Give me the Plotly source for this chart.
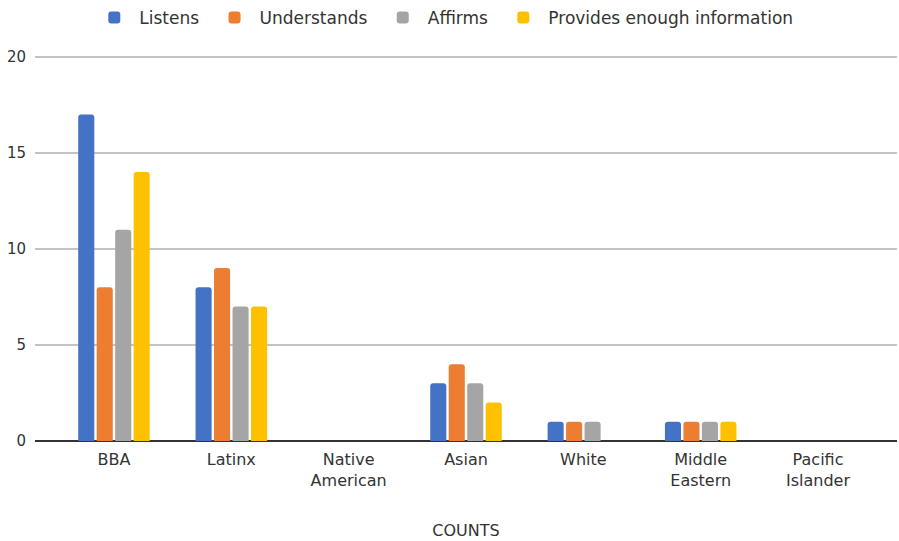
import plotly.graph_objects as go

categories = ["BBA", "Latinx", "Native<br>American", "Asian", "White", "Middle<br>Eastern", "Pacific<br>Islander"]
listens = [17, 8, 0, 3, 1, 1, 0]
understands = [8, 9, 0, 4, 1, 1, 0]
affirms = [11, 7, 0, 3, 1, 1, 0]
enough_info = [14, 7, 0, 2, 0, 1, 0]

series = [
    ("Listens", listens, "#4472C4"),
    ("Understands", understands, "#ED7D31"),
    ("Affirms", affirms, "#A5A5A5"),
    ("Provides enough information", enough_info, "#FFC000"),
]

y_ticks = [0, 5, 10, 15, 20]

font_family = "DejaVu Sans, Verdana, sans-serif"
text_color = "#333333"

fig = go.Figure()
for name, values, color in series:
    fig.add_trace(go.Bar(
        name=name + "\u00a0",
        x=categories,
        y=values,
        marker=dict(color=color, line=dict(width=0)),
    ))

fig.update_layout(
    width=899,
    height=541,
    barmode="group",
    bargap=0.37,
    bargroupgap=0.13,
    barcornerradius=3,
    plot_bgcolor="white",
    paper_bgcolor="white",
    margin=dict(l=35, r=2, t=52, b=100),
    font=dict(family=font_family, size=16, color=text_color),
    legend=dict(
        orientation="h",
        xref="container",
        yref="container",
        x=0.497,
        xanchor="center",
        y=1.0,
        yanchor="top",
        font=dict(size=17, color=text_color),
        itemwidth=40,
        traceorder="normal",
    ),
    xaxis=dict(
        range=[-0.673, 6.673],
        showgrid=False,
        showline=False,
        ticks="",
        ticklabelstandoff=7,
        tickfont=dict(size=16, color=text_color),
        title=dict(text="COUNTS", font=dict(size=16, color=text_color), standoff=36),
    ),
    yaxis=dict(
        range=[0, 20.25],
        tickvals=y_ticks,
        showgrid=True,
        gridcolor="#C4C4C4",
        gridwidth=2,
        zeroline=True,
        zerolinecolor="#333333",
        zerolinewidth=1.5,
        ticks="",
        ticklabelstandoff=8,
        tickfont=dict(size=15, color=text_color),
    ),
)

fig.write_html("out.html")
